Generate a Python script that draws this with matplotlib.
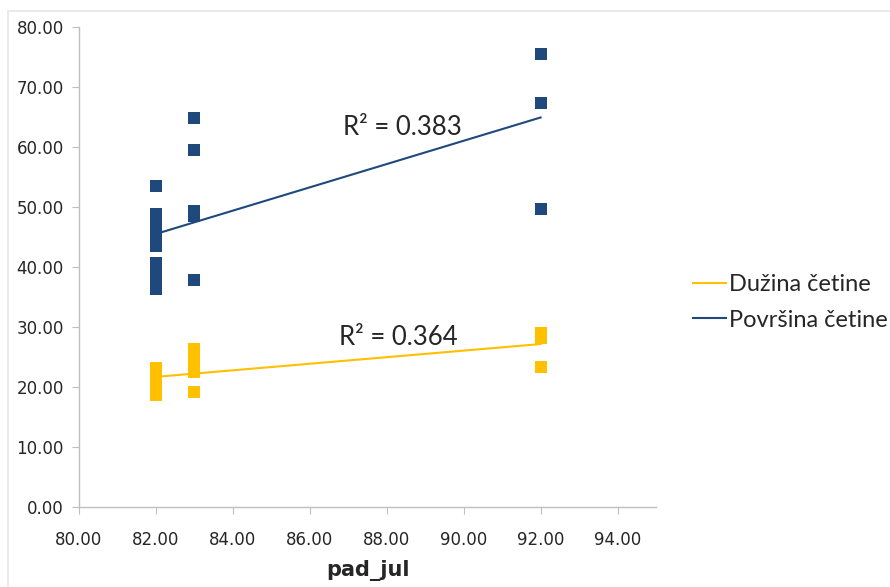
import numpy as np
import matplotlib
matplotlib.use("Agg")
import matplotlib.pyplot as plt
from matplotlib.lines import Line2D
from matplotlib.ticker import FormatStrFormatter

# data
x_duzina = [82, 82, 82, 82, 82, 82, 82, 82, 82, 82,
            83, 83, 83, 83, 83, 83, 83,
            92, 92, 92]
y_duzina = [23.2, 22.7, 22.0, 21.5, 21.0, 20.5, 20.0, 19.5, 19.0, 18.7,
            26.3, 25.5, 24.8, 24.0, 23.2, 22.5, 19.1,
            29.0, 28.2, 23.3]

x_povrsina = [82, 82, 82, 82, 82, 82, 82, 82, 82, 82, 82, 82, 82, 82,
              83, 83, 83, 83, 83,
              92, 92, 92]
y_povrsina = [53.5, 48.9, 48.2, 47.5, 46.8, 46.0, 45.2, 44.4, 43.5, 40.6, 39.6, 38.6, 37.6, 36.4,
              64.8, 59.5, 49.3, 48.5, 37.8,
              75.5, 67.3, 49.7]

series_names = ["Dužina četine", "Površina četine"]
r2_labels = ["R² = 0.364", "R² = 0.383"]

yellow = "#FFC000"
blue = "#1F497D"
grey = "#BFBFBF"
text_col = "#262626"

fig = plt.figure(figsize=(8.9, 5.87), dpi=100)
ax = fig.add_axes([79 / 890, 1 - 507 / 587, 577 / 890, 480 / 587])

# light frame of the chart area (top and left edges visible)
fig.add_artist(plt.Rectangle((8 / 890, -0.05), 1.1, 1 - 11 / 587 + 0.05,
                             transform=fig.transFigure, fill=False,
                             edgecolor="#E6E6E6", linewidth=1.2))

ax.scatter(x_duzina, y_duzina, marker="s", s=78, color=yellow, linewidths=0, zorder=3)
ax.scatter(x_povrsina, y_povrsina, marker="s", s=78, color=blue, linewidths=0, zorder=3)

# linear trend lines
for xs, ys, col in [(x_duzina, y_duzina, yellow), (x_povrsina, y_povrsina, blue)]:
    k, b = np.polyfit(xs, ys, 1)
    xx = np.array([min(xs), max(xs)])
    ax.plot(xx, k * xx + b, color=col, linewidth=1.5, zorder=4)

ax.text(88.4, 63.3, r2_labels[1], ha="center", va="center", fontsize=18.5,
        family="Lato", color=text_col)
ax.text(88.3, 28.3, r2_labels[0], ha="center", va="center", fontsize=18.5,
        family="Lato", color=text_col)

ax.set_xlim(80, 95)
ax.set_ylim(0, 80)
ax.set_xticks(np.arange(80, 95, 2))
ax.set_yticks(np.arange(0, 81, 10))
ax.xaxis.set_major_formatter(FormatStrFormatter("%.2f"))
ax.yaxis.set_major_formatter(FormatStrFormatter("%.2f"))
ax.tick_params(direction="out", length=5, color=grey, labelsize=12,
               labelcolor=text_col)
ax.tick_params(axis="x", pad=12)
ax.tick_params(axis="y", pad=6)

for s in ["top", "right"]:
    ax.spines[s].set_visible(False)
for s in ["left", "bottom"]:
    ax.spines[s].set_color(grey)
    ax.spines[s].set_linewidth(1)

ax.set_xlabel("pad_jul", fontsize=15, fontweight="bold", color=text_col, labelpad=8)

handles = [Line2D([], [], color=yellow, linewidth=1.5),
           Line2D([], [], color=blue, linewidth=1.5)]
fig.legend(handles, series_names, loc="center left", bbox_to_anchor=(0.779, 0.485),
           frameon=False, handlelength=1.4, handletextpad=0.1, labelspacing=0.62,
           borderaxespad=0, borderpad=0,
           prop={"family": "Lato", "size": 17}, labelcolor=text_col)

fig.savefig("out.png", dpi=100)
